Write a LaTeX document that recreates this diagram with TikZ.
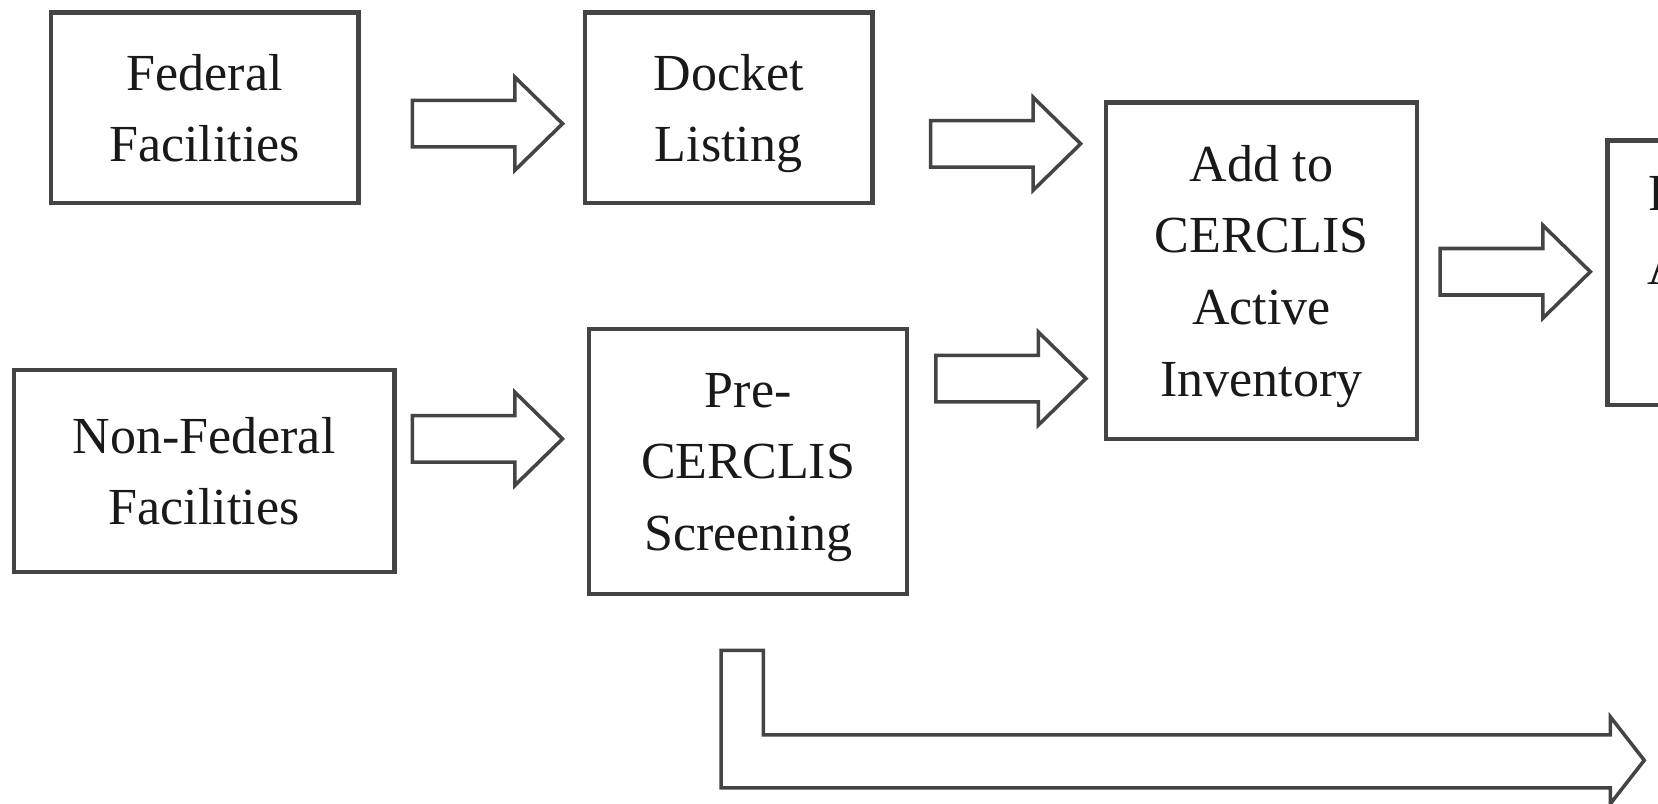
\documentclass[tikz,border=0pt]{standalone}
\usepackage{fontspec}
\setmainfont{Liberation Serif}
\definecolor{linegray}{RGB}{68,68,68}
\definecolor{textgray}{RGB}{25,25,25}
\begin{document}
\begin{tikzpicture}[x=0.02cm,y=-0.02cm,
  box/.style={draw=linegray, line width=2.4pt, inner sep=0pt, align=center,
    text=textgray, text depth=0pt, font=\fontsize{28}{38.5}\selectfont},
  lbl/.style={inner sep=0pt, text=textgray, font=\fontsize{28}{38}\selectfont},
  blk/.style={draw=linegray, line width=1.9pt, fill=white, line join=miter}]
\useasboundingbox (0,0) rectangle (1568,760);
\clip (0,0) rectangle (1568,760);
\fill[white] (0,0) rectangle (1568,760);
% boxes
\node[box, minimum width=5.82cm, minimum height=3.6cm] (fed) at (193.5,102) {Federal\\Facilities};
\node[box, minimum width=5.44cm, minimum height=3.6cm] (docket) at (689,102) {Docket\\Listing};
\node[box, minimum width=7.2cm, minimum height=3.82cm] (nonfed) at (193,445.5) {Non-Federal\\Facilities};
\node[box, minimum width=6.02cm, minimum height=5.02cm] (pre) at (707.5,436.5) {Pre-\\CERCLIS\\Screening};
\node[box, minimum width=5.88cm, minimum height=6.36cm] (add) at (1193,256) {Add to\\CERCLIS\\Active\\Inventory};
\node[box, minimum width=6cm, minimum height=5cm] (pa) at (1670,258) {};
\node[lbl, anchor=west] (pa1) at (1559,187) {Preliminary};
\node[lbl, anchor=west] (pa2) at (1558,253) {Assessment};
% block arrows
\foreach \xa/\yc in {390/117, 880/136, 885/358, 1362/257, 390/415}
  \draw[blk] (\xa,\yc-22) -- ++(97,0) -- ++(0,-22) -- ++(45,44) -- ++(-45,44)
     -- ++(0,-22) -- ++(-97,0) -- cycle;
% bent arrow
\draw[blk] (682,615) -- (722,615) -- (722,695) -- (1523,695) -- (1523,678)
  -- (1555,719) -- (1523,760) -- (1523,745) -- (682,745) -- cycle;
\end{tikzpicture}
\end{document}
